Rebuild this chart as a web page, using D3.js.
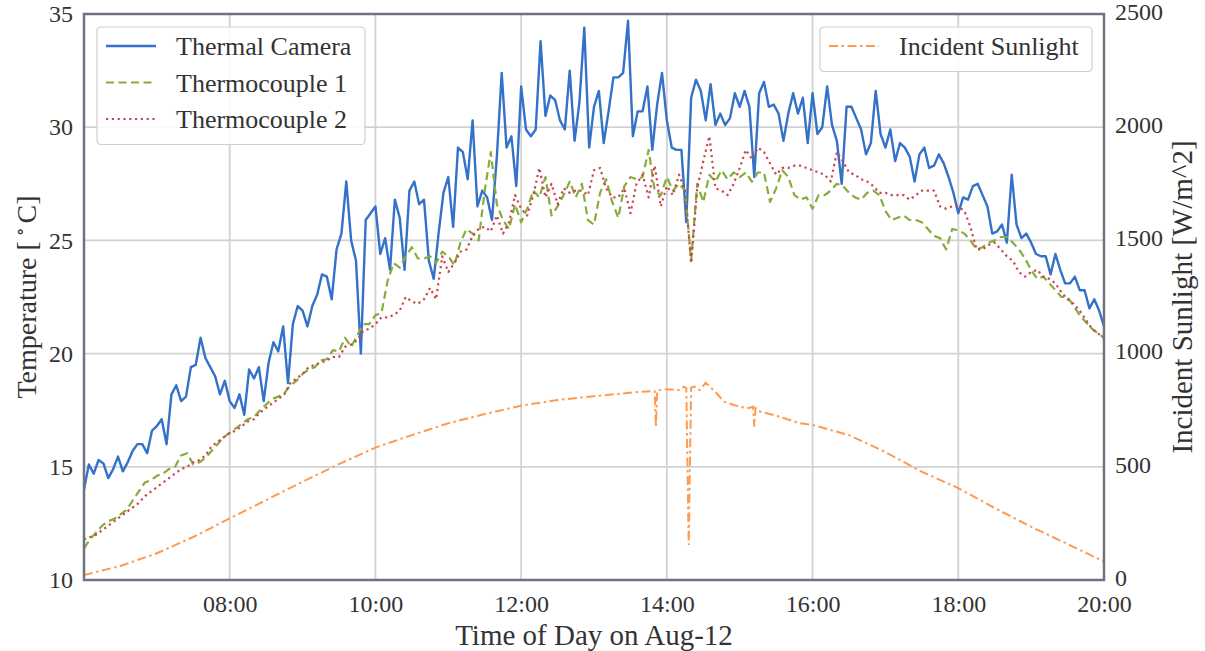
<!doctype html>
<html>
  <head>
    <meta charset="utf-8">
    <title>Temperature and incident sunlight, Aug-12</title>
    <script src="https://cdnjs.cloudflare.com/ajax/libs/d3/7.8.5/d3.min.js"></script>
    <style>
      body { margin: 0; background: #fff; }
      svg text { font-family: "Liberation Serif", "DejaVu Serif", serif; fill: #333; }
    </style>
  </head>
  <body>
    <div id="chart"></div>
    <script>
      // --- data ---
      const dayStart = '06:00', dayEnd = '20:00';

      // thermal camera, one reading every 4 minutes from 06:00
      const cameraStep = 4;
      const cameraTemp = [
        14.0, 15.1, 14.7, 15.3, 15.15, 14.5, 14.9, 15.45, 14.8, 15.2, 15.7, 16.0, 16.0, 15.6, 16.6, 16.8,
        17.1, 16.0, 18.2, 18.6, 17.9, 18.1, 19.4, 19.5, 20.7, 19.8, 19.4, 19.0, 18.2, 18.8, 17.9, 17.6,
        18.2, 17.3, 19.3, 18.9, 19.4, 17.9, 19.6, 20.5, 20.1, 21.2, 18.7, 21.3, 22.1, 21.9, 21.2, 22.1,
        22.6, 23.5, 23.4, 22.4, 24.6, 25.3, 27.6, 25.0, 24.1, 20.0, 25.9, 26.2, 26.5, 24.4, 25.1, 23.7,
        26.8, 26.0, 23.7, 27.2, 27.6, 26.6, 26.8, 24.1, 23.3, 25.3, 27.1, 27.8, 25.6, 29.1, 28.9, 27.7,
        30.3, 26.5, 27.2, 26.9, 25.9, 28.7, 32.4, 29.1, 29.6, 27.4, 31.8, 29.9, 29.6, 29.9, 33.8, 30.5,
        31.4, 31.2, 30.3, 29.9, 32.5, 29.4, 31.1, 34.4, 29.1, 30.9, 31.6, 29.3, 30.7, 32.2, 32.2, 32.4,
        34.7, 29.6, 30.7, 30.7, 31.8, 29.0, 31.0, 32.4, 30.3, 29.1, 29.0, 29.0, 25.8, 31.3, 32.1, 31.6,
        30.3, 31.9, 30.1, 30.6, 30.1, 30.4, 31.5, 30.9, 31.6, 30.9, 27.8, 31.5, 32.0, 30.9, 31.0, 30.6,
        29.4, 30.6, 31.5, 30.6, 31.3, 29.3, 31.5, 29.7, 30.0, 31.8, 30.1, 29.4, 27.5, 30.9, 30.9, 30.4,
        29.9, 28.8, 29.3, 31.6, 29.7, 29.1, 29.9, 28.5, 29.3, 29.1, 28.7, 27.6, 28.8, 29.1, 28.2, 28.3,
        28.8, 28.4, 27.8, 27.1, 26.2, 26.9, 26.8, 27.4, 27.5, 27.0, 26.5, 25.3, 25.4, 25.7, 24.9, 27.9,
        25.7, 25.1, 25.3, 24.9, 24.4, 24.3, 24.3, 23.5, 24.4, 23.7, 23.1, 23.1, 23.4, 22.8, 22.8, 22.0,
        22.4, 21.9, 21.2
      ];

      // thermocouples, one reading every 5 minutes from 06:00
      const coupleStep = 5;
      const couple1Temp = [
        11.4, 11.8, 12.1, 12.4, 12.6, 12.7, 12.9, 13.1, 13.5, 13.9, 14.3, 14.4, 14.6, 14.7, 14.9, 15.0,
        15.5, 15.6, 15.1, 15.2, 15.4, 15.7, 16.0, 16.3, 16.5, 16.7, 16.9, 17.1, 17.2, 17.5, 17.75, 18.0,
        18.1, 18.25, 18.6, 18.8, 19.1, 19.3, 19.4, 19.7, 19.75, 20.15, 20.1, 20.7, 20.3, 20.8, 21.3, 21.3,
        21.7, 21.8, 23.2, 24.0, 23.8, 24.3, 24.7, 24.2, 24.2, 24.3, 24.0, 24.5, 24.3, 23.9, 24.9, 25.5,
        25.3, 25.0, 27.2, 28.9, 26.6, 25.9, 25.5, 26.6, 25.8, 26.4, 27.2, 26.9, 27.8, 26.1, 26.5, 27.0,
        27.6, 26.9, 27.5, 25.9, 25.7, 27.1, 27.7, 26.7, 26.0, 27.4, 27.8, 27.7, 27.8, 29.0, 27.2, 27.0,
        27.8, 27.2, 27.5, 27.2, 24.1, 27.5, 26.7, 27.9, 27.6, 28.1, 27.7, 28.0, 27.8, 28.0, 27.6, 28.0,
        28.0, 26.7, 27.3, 28.1, 27.8, 27.0, 26.8, 26.9, 26.4, 27.0, 27.0, 27.2, 27.5, 27.4, 27.1, 26.9,
        26.8, 27.1, 27.2, 27.0, 26.3, 25.9, 26.0, 26.1, 25.9, 25.9, 25.8, 25.5, 25.2, 25.1, 24.6, 25.5,
        25.45, 25.3, 25.0, 24.6, 24.7, 24.9, 25.0, 25.15, 25.15, 24.9, 24.6, 24.2, 23.7, 23.3, 23.4, 23.1,
        22.8, 22.5, 22.5, 22.1, 21.7, 21.4, 21.1, 20.9, 20.7
      ];
      const couple2Temp = [
        11.8, 11.9, 12.0, 12.2, 12.4, 12.6, 12.8, 13.0, 13.2, 13.4, 13.7, 13.9, 14.1, 14.3, 14.5, 14.7,
        14.9, 15.0, 15.2, 15.3, 15.5, 15.9, 16.1, 16.3, 16.5, 16.6, 16.8, 17.0, 17.1, 17.4, 17.6, 17.8,
        18.0, 18.2, 18.7, 18.9, 19.1, 19.4, 19.5, 19.6, 19.7, 19.85, 19.85, 20.3, 20.4, 20.6, 21.0, 21.1,
        21.3, 21.6, 21.6, 21.7, 21.9, 22.5, 22.3, 22.2, 22.4, 22.9, 22.4, 24.3, 23.6, 24.0, 24.5, 24.6,
        25.2, 25.5, 25.6, 25.4, 26.1, 25.3, 25.8, 27.0, 26.4, 26.1, 27.0, 28.2, 26.9, 27.5, 26.6, 27.3,
        27.1, 27.2, 27.2, 27.0, 28.1, 28.2, 27.3, 26.9, 26.9, 27.3, 26.2, 27.5, 27.9, 26.9, 28.3, 26.5,
        27.4, 27.0, 27.9, 27.2, 24.0, 27.3, 28.5, 29.6, 27.3, 27.2, 27.0, 27.5, 28.2, 29.0, 28.6, 29.1,
        28.9, 28.4, 27.9, 28.2, 28.2, 28.3, 28.3, 28.2, 28.1, 28.0, 27.9, 27.6, 28.9, 28.5, 28.0, 27.9,
        27.7, 27.6, 27.4, 27.1, 27.1, 27.0, 27.0, 27.0, 26.8, 27.0, 27.2, 27.2, 27.2, 26.5, 26.4, 26.5,
        26.5, 26.3, 25.6, 24.6, 24.6, 24.8, 24.9, 24.6, 24.3, 24.1, 23.6, 23.4, 23.6, 23.7, 23.4, 23.3,
        23.1, 22.7, 22.4, 22.2, 21.9, 21.5, 21.1, 20.9, 20.7
      ];

      // incident sunlight [W/m^2]
      const sunTimes = [
        '06:00', '06:30', '07:00', '07:30', '08:00', '08:30', '09:00', '09:30', '10:00', '10:30',
        '11:00', '11:30', '12:00', '12:30', '13:00', '13:20', '13:40', '13:50', '13:51', '13:52',
        '13:58', '14:10', '14:14', '14:16', '14:18', '14:20', '14:23', '14:27', '14:32', '14:41',
        '14:47', '14:55', '15:06', '15:11', '15:12', '15:13', '15:17', '15:28', '15:50', '16:00',
        '16:30', '17:00', '17:30', '18:00', '18:30', '19:00', '19:30', '20:00'
      ];
      const sunValues = [
        22, 62, 118, 190, 272, 353, 434, 512, 585, 640,
        692, 733, 770, 795, 812, 822, 832, 834, 677, 836,
        843, 839, 854, 848, 155, 850, 854, 839, 871, 825,
        788, 773, 758, 765, 677, 760, 743, 729, 692, 685,
        640, 565, 478, 406, 318, 235, 159, 81
      ];

      const timeTicks = ['08:00', '10:00', '12:00', '14:00', '16:00', '18:00', '20:00'];
      const tempTicks = [10, 15, 20, 25, 30, 35];
      const sunTicks = [0, 500, 1000, 1500, 2000, 2500];

      // --- chart ---
      const width = 1205, height = 651;
      const margin = {top: 14, right: 101, bottom: 71, left: 84};

      const parseTime = d3.timeParse('%H:%M');
      const x = d3.scaleTime()
        .domain([parseTime(dayStart), parseTime(dayEnd)])
        .range([margin.left, width - margin.right]);
      const yTemp = d3.scaleLinear().domain([10, 35]).range([height - margin.bottom, margin.top]);
      const ySun = d3.scaleLinear().domain([0, 2500]).range([height - margin.bottom, margin.top]);

      const svg = d3.select('#chart').append('svg')
        .attr('width', width)
        .attr('height', height);

      svg.append('clipPath').attr('id', 'plot-clip')
        .append('rect')
        .attr('x', margin.left).attr('y', margin.top)
        .attr('width', width - margin.left - margin.right)
        .attr('height', height - margin.top - margin.bottom);

      // grid
      const grid = svg.append('g').attr('stroke', '#d2d2d2').attr('stroke-width', 1.8);
      grid.selectAll('.vgrid').data(timeTicks).join('line')
        .attr('x1', d => x(parseTime(d))).attr('x2', d => x(parseTime(d)))
        .attr('y1', margin.top).attr('y2', height - margin.bottom);
      grid.selectAll('.hgrid').data(tempTicks).join('line')
        .attr('x1', margin.left).attr('x2', width - margin.right)
        .attr('y1', d => yTemp(d)).attr('y2', d => yTemp(d));

      // series
      const stepped = (vals, step) => vals.map((v, i) => ({t: d3.timeMinute.offset(parseTime(dayStart), i * step), v}));
      const tempLine = d3.line().x(d => x(d.t)).y(d => yTemp(d.v));
      const sunLine = d3.line().x(d => x(d.t)).y(d => ySun(d.v));

      const plot = svg.append('g').attr('clip-path', 'url(#plot-clip)').attr('fill', 'none');

      const series = [
        {name: 'Thermal Camera', data: stepped(cameraTemp, cameraStep), color: '#3471c8', dash: null, w: 2.4},
        {name: 'Thermocouple 1', data: stepped(couple1Temp, coupleStep), color: '#86ad3b', dash: '8,4.5', w: 2.2},
        {name: 'Thermocouple 2', data: stepped(couple2Temp, coupleStep), color: '#c9474d', dash: '2.2,3.6', w: 2.2}
      ];

      series.forEach(s => {
        plot.append('path')
          .datum(s.data)
          .attr('d', tempLine)
          .attr('stroke', s.color)
          .attr('stroke-width', s.w)
          .attr('stroke-dasharray', s.dash)
          .attr('stroke-linejoin', 'round');
      });

      const sunSeries = sunTimes.map((t, i) => ({t: parseTime(t), v: sunValues[i]}));
      const sunColor = '#ff9a4f';
      plot.append('path')
        .datum(sunSeries)
        .attr('d', sunLine)
        .attr('stroke', sunColor)
        .attr('stroke-width', 2)
        .attr('stroke-dasharray', '9,3.5,2.5,3.5');

      // frame
      svg.append('rect')
        .attr('x', margin.left).attr('y', margin.top)
        .attr('width', width - margin.left - margin.right)
        .attr('height', height - margin.top - margin.bottom)
        .attr('fill', 'none')
        .attr('stroke', '#6b7480')
        .attr('stroke-width', 2.5);

      // axes
      const xAxis = d3.axisBottom(x)
        .tickValues(timeTicks.map(parseTime))
        .tickFormat(d3.timeFormat('%H:%M'))
        .tickSize(0).tickPadding(15);
      const yAxisL = d3.axisLeft(yTemp).tickValues(tempTicks).tickSize(0).tickPadding(11);
      const yAxisR = d3.axisRight(ySun).tickValues(sunTicks).tickFormat(d3.format('d')).tickSize(0).tickPadding(11);

      const axisGroups = [
        svg.append('g').attr('transform', `translate(0,${height - margin.bottom})`).call(xAxis),
        svg.append('g').attr('transform', `translate(${margin.left},0)`).call(yAxisL),
        svg.append('g').attr('transform', `translate(${width - margin.right},0)`).call(yAxisR)
      ];
      axisGroups.forEach(g => {
        g.select('.domain').remove();
        g.selectAll('text')
          .attr('font-family', '"Liberation Serif", serif')
          .attr('font-size', 24)
          .attr('fill', '#333');
      });
      axisGroups[2].selectAll('text').attr('dy', '0.22em');

      // axis labels
      svg.append('text')
        .attr('x', (margin.left + width - margin.right) / 2)
        .attr('y', 645)
        .attr('text-anchor', 'middle')
        .attr('font-size', 29)
        .text('Time of Day on Aug-12');

      const yLabel = svg.append('text')
        .attr('transform', `translate(36,${(margin.top + height - margin.bottom) / 2}) rotate(-90)`)
        .attr('text-anchor', 'middle')
        .attr('font-size', 28);
      yLabel.append('tspan').text('Temperature [');
      yLabel.append('tspan').attr('font-size', 18).attr('dy', -10).attr('dx', 5).text('∘');
      yLabel.append('tspan').attr('dy', 10).attr('dx', 4).text('C]');

      svg.append('text')
        .attr('transform', `translate(1192,${(margin.top + height - margin.bottom) / 2}) rotate(-90)`)
        .attr('text-anchor', 'middle')
        .attr('font-size', 29)
        .text('Incident Sunlight [W/m^2]');

      // legends
      function legend(items, left, top, w) {
        const rowH = 36.5;
        const g = svg.append('g').attr('transform', `translate(${left},${top})`);
        g.append('rect')
          .attr('width', w).attr('height', items.length * rowH + 8)
          .attr('rx', 4)
          .attr('fill', 'rgba(255,255,255,0.85)')
          .attr('stroke', '#cfcfcf')
          .attr('stroke-width', 1.2);
        const row = g.selectAll('.row').data(items).join('g')
          .attr('transform', (d, i) => `translate(0,${19 + i * rowH})`);
        row.append('line')
          .attr('x1', 9).attr('x2', 59)
          .attr('stroke', d => d.color)
          .attr('stroke-width', d => d.w)
          .attr('stroke-dasharray', d => d.dash);
        row.append('text')
          .attr('x', 79).attr('y', 9)
          .attr('font-size', 26)
          .text(d => d.name);
      }

      legend(series, 97, 27, 268);
      legend([{name: 'Incident Sunlight', color: sunColor, dash: '9,3.5,2.5,3.5', w: 2}], 820, 27, 272);
    </script>
  </body>
</html>
